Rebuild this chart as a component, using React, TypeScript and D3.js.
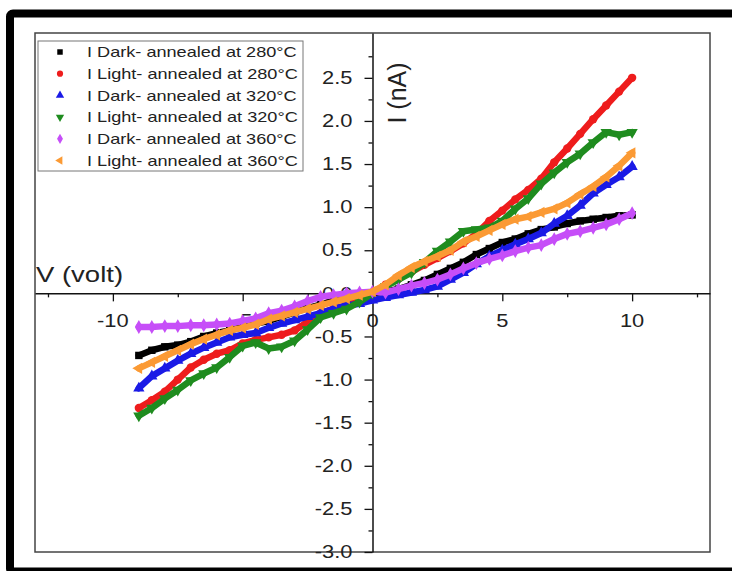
import React, { useEffect, useRef } from 'react';
import * as d3 from 'd3';

// applied bias (V), shared by every series
const voltage = [-9, -8.5, -8, -7.5, -7, -6.5, -6, -5.5, -5, -4.5, -4, -3.5, -3, -2.5, -2, -1.5, -1, -0.5,
  0, 0.5, 1, 1.5, 2, 2.5, 3, 3.5, 4, 4.5, 5, 5.5, 6, 6.5, 7, 7.5, 8, 8.5, 9, 9.5, 10];

// currents (nA)
const iDark280 = [-0.72, -0.66, -0.62, -0.6, -0.56, -0.5, -0.46, -0.43, -0.39, -0.35, -0.32, -0.27, -0.22, -0.17, -0.13, -0.09, -0.06, -0.03,
  0, 0.02, 0.05, 0.1, 0.15, 0.22, 0.29, 0.36, 0.45, 0.52, 0.59, 0.63, 0.69, 0.74, 0.77, 0.81, 0.84, 0.86, 0.88, 0.9, 0.91];
const iLight280 = [-1.33, -1.24, -1.14, -1.0, -0.86, -0.77, -0.7, -0.66, -0.58, -0.54, -0.51, -0.48, -0.43, -0.33, -0.23, -0.18, -0.14, -0.08,
  0, 0.1, 0.17, 0.25, 0.33, 0.41, 0.49, 0.58, 0.69, 0.84, 0.96, 1.09, 1.2, 1.33, 1.52, 1.68, 1.85, 2.02, 2.18, 2.34, 2.5];
const iDark320 = [-1.1, -0.96, -0.87, -0.78, -0.7, -0.63, -0.57, -0.51, -0.48, -0.46, -0.4, -0.35, -0.31, -0.27, -0.23, -0.18, -0.14, -0.12,
  -0.08, -0.05, -0.02, 0.01, 0.04, 0.08, 0.16, 0.24, 0.34, 0.43, 0.5, 0.57, 0.63, 0.7, 0.81, 0.9, 1.02, 1.16, 1.26, 1.35, 1.47];
const iLight320 = [-1.42, -1.33, -1.22, -1.12, -1.01, -0.93, -0.86, -0.74, -0.61, -0.57, -0.64, -0.62, -0.55, -0.42, -0.28, -0.23, -0.18, -0.1,
  0, 0.08, 0.16, 0.24, 0.36, 0.49, 0.6, 0.72, 0.74, 0.76, 0.84, 0.98, 1.1, 1.27, 1.4, 1.52, 1.62, 1.75, 1.87, 1.84, 1.87];
const iDark360 = [-0.39, -0.39, -0.38, -0.38, -0.37, -0.37, -0.36, -0.35, -0.32, -0.29, -0.23, -0.2, -0.15, -0.09, -0.04, -0.02, 0, 0.01,
  0.02, 0.01, 0.05, 0.09, 0.12, 0.16, 0.22, 0.29, 0.35, 0.4, 0.44, 0.49, 0.53, 0.56, 0.63, 0.69, 0.72, 0.76, 0.8, 0.86, 0.93];
const iLight360 = [-0.87, -0.8, -0.73, -0.66, -0.59, -0.53, -0.48, -0.43, -0.4, -0.36, -0.3, -0.26, -0.22, -0.18, -0.14, -0.1, -0.06, -0.02,
  0.02, 0.1, 0.21, 0.3, 0.37, 0.43, 0.5, 0.6, 0.66, 0.73, 0.8, 0.86, 0.89, 0.94, 0.98, 1.05, 1.15, 1.24, 1.35, 1.48, 1.63];

const seriesNames = [
  'I Dark- annealed at 280°C',
  'I Light- annealed at 280°C',
  'I Dark- annealed at 320°C',
  'I Light- annealed at 320°C',
  'I Dark- annealed at 360°C',
  'I Light- annealed at 360°C',
];
const seriesColors = ['#000000', '#ee1c1c', '#1a1ae6', '#1f8c1f', '#c64ef8', '#fb9a34'];

const xMajorTicks = [-10, -5, 0, 5, 10];
const xMinorTicks = [-12.5, -7.5, -2.5, 2.5, 7.5, 12.5];
const yMajorTicks = [-3, -2.5, -2, -1.5, -1, -0.5, 0, 0.5, 1, 1.5, 2, 2.5];
const yMinorTicks = [-2.75, -2.25, -1.75, -1.25, -0.75, -0.25, 0.25, 0.75, 1.25, 1.75, 2.25, 2.75];

const FONT = '"Liberation Sans", Arial, Helvetica, sans-serif';
const SX = 1.25; // the source figure is stretched sideways

const App = () => {
  const ref = useRef<SVGSVGElement | null>(null);

  useEffect(() => {
    const svg = d3.select(ref.current);
    svg.selectAll('*').remove();

    const left = 35, right = 710, top = 33, bottom = 552;
    const x = d3.scaleLinear().domain([-13, 13]).range([left, right]);
    const y = d3.scaleLinear().domain([-3, 3.02]).range([bottom, top]);

    const series = [iDark280, iLight280, iDark320, iLight320, iDark360, iLight360];
    const symbols = [
      { type: d3.symbolSquare, rot: 0 },
      { type: d3.symbolCircle, rot: 0 },
      { type: d3.symbolTriangle, rot: 0 },
      { type: d3.symbolTriangle, rot: 180 },
      { type: d3.symbolDiamond, rot: 0 },
      { type: d3.symbolTriangle, rot: -90 },
    ];

    // outer thick frame (its right side is cropped off in the source)
    svg.append('rect')
      .attr('x', 10).attr('y', 13.5).attr('width', 800).attr('height', 558)
      .attr('rx', 3)
      .attr('fill', '#fff').attr('stroke', '#000').attr('stroke-width', 8);

    // plot frame
    svg.append('rect')
      .attr('x', left).attr('y', top).attr('width', right - left).attr('height', bottom - top)
      .attr('fill', 'none').attr('stroke', '#444').attr('stroke-width', 1.5);

    const label = (g, tx, ty, txt, size, anchor) =>
      g.append('text')
        .attr('transform', `translate(${tx},${ty}) scale(${SX},1)`)
        .attr('text-anchor', anchor)
        .attr('font-family', FONT)
        .attr('font-size', size)
        .attr('fill', '#222')
        .text(txt);

    // tick labels first so the curves cover them
    const labels = svg.append('g');
    xMajorTicks.forEach((v) => label(labels, x(v), 327, String(v), 17.5, 'middle'));
    yMajorTicks.forEach((v) => label(labels, x(0) - 20, y(v) + 6.2, v.toFixed(1), 17.5, 'end'));

    // axis titles
    label(svg, 36, 282, 'V (volt)', 22, 'start');
    svg.append('text')
      .attr('transform', `translate(406,93) rotate(-90)`)
      .attr('text-anchor', 'middle')
      .attr('font-family', FONT)
      .attr('font-size', 25)
      .attr('fill', '#222')
      .text('I (nA)');

    // axes through the origin
    const xAxis = svg.append('g').attr('transform', `translate(0,${y(0)})`);
    xAxis.call(d3.axisBottom(x).tickValues(xMajorTicks).tickSize(8).tickSizeOuter(0).tickFormat(() => ''));
    xAxis.append('g').call(d3.axisBottom(x).tickValues(xMinorTicks).tickSize(4).tickSizeOuter(0).tickFormat(() => ''))
      .select('.domain').remove();
    const yAxis = svg.append('g').attr('transform', `translate(${x(0)},0)`);
    yAxis.call(d3.axisLeft(y).tickValues(yMajorTicks).tickSize(8).tickSizeOuter(0).tickFormat(() => ''));
    yAxis.append('g').call(d3.axisLeft(y).tickValues(yMinorTicks).tickSize(4).tickSizeOuter(0).tickFormat(() => ''))
      .select('.domain').remove();
    svg.selectAll('.domain').attr('stroke', '#111').attr('stroke-width', 1.5);
    svg.selectAll('.tick line').attr('stroke', '#111').attr('stroke-width', 1.3);

    // curves: thick line plus a marker at every reading
    const line = d3.line<number>().x((d, i) => x(voltage[i])).y((d) => y(d));
    series.forEach((vals, k) => {
      const g = svg.append('g');
      g.append('path')
        .datum(vals)
        .attr('d', line)
        .attr('fill', 'none')
        .attr('stroke', seriesColors[k])
        .attr('stroke-width', 6.5)
        .attr('stroke-linejoin', 'round')
        .attr('stroke-linecap', 'round');
      g.selectAll('path.mk')
        .data(vals)
        .enter()
        .append('path')
        .attr('class', 'mk')
        .attr('d', d3.symbol().type(symbols[k].type).size(55))
        .attr('transform', (d, i) => `translate(${x(voltage[i])},${y(d)}) rotate(${symbols[k].rot})`)
        .attr('fill', seriesColors[k]);
    });

    // legend
    const lg = svg.append('g');
    lg.append('rect')
      .attr('x', 38).attr('y', 41).attr('width', 265).attr('height', 130)
      .attr('fill', '#fff').attr('stroke', '#777').attr('stroke-width', 1);
    seriesNames.forEach((name, k) => {
      const cy = 52 + k * 21.7;
      lg.append('path')
        .attr('d', d3.symbol().type(symbols[k].type).size(30))
        .attr('transform', `translate(60,${cy}) rotate(${symbols[k].rot})`)
        .attr('fill', seriesColors[k]);
      label(lg, 87, cy + 5.2, name, 14.5, 'start');
    });
  }, []);

  return (
    <svg ref={ref} width={732} height={571} style={{ position: 'absolute', left: 0, top: 0, background: '#fff' }} />
  );
};

export default App;
